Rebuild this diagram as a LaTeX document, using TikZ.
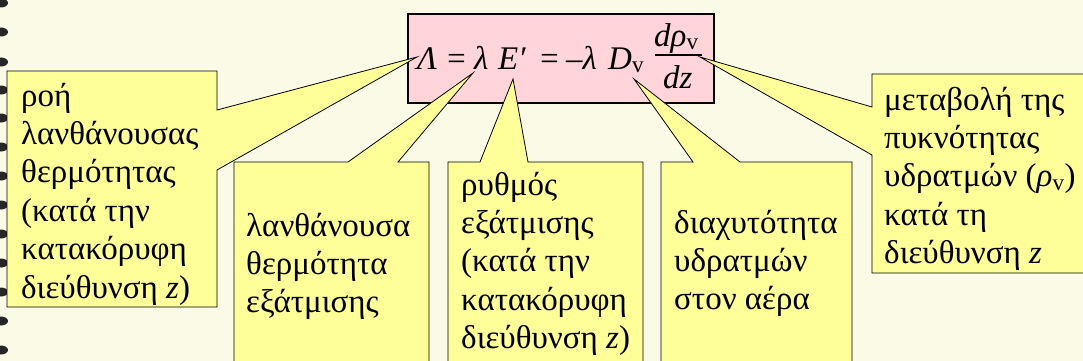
\documentclass[tikz,border=0pt]{standalone}
\usepackage{fontspec}
\setmainfont{Liberation Serif}
\definecolor{bgcol}{HTML}{FAFAE6}
\definecolor{calloutcol}{HTML}{FFFF99}
\definecolor{pinkcol}{HTML}{FFD5D9}
\newcommand{\ctext}[1]{\parbox[t]{260pt}{\fontsize{33}{38.4}\selectfont\raggedright #1}}
\tikzset{
  callout/.style={fill=calloutcol, draw=black, line width=0.8pt, line join=miter},
  ctxt/.style={anchor=base west, inner sep=0pt},
  ftxt/.style={anchor=base west, inner sep=0pt, font=\fontsize{33}{38}\selectfont\itshape},
  blob/.style={fill=black!85},
}
\begin{document}
\begin{tikzpicture}[x=1pt,y=-1pt]
\useasboundingbox (0,0) rectangle (1083,361);
\fill[bgcol] (0,0) rectangle (1083,361);
% binding dots on the left edge
\foreach \yy in {3,32,62,90,118,147,176,205,234,263,292,321,350}
  \fill[blob] (1,\yy) ellipse [x radius=7pt, y radius=4.5pt];
% formula box
\node[draw=black, line width=2pt, fill=pinkcol, minimum width=306pt, minimum height=89pt,
      anchor=north west, inner sep=0pt] (fbox) at (407,13) {};
\node[ftxt] (f1) at (417,69) {Λ};
\node[ftxt] (f2) at (445,69) {=};
\node[ftxt] (f3) at (474,69) {λ};
\node[ftxt] (f4) at (498,69) {E′};
\node[ftxt] (f5) at (538,69) {=};
\node[ftxt] (f6) at (566,69) {–λ};
\node[ftxt] (f7) at (608,69) {D\textsubscript{\upshape v}};
\node[ftxt] (num) at (654,46) {dρ\textsubscript{\upshape v}};
\node[ftxt] (den) at (663,88) {dz};
\coordinate (barL) at (655,55);
\coordinate (barR) at (702,55);
\draw[line width=1.3pt] (barL) -- (barR);
% tips
\coordinate (tA) at (417,57);
\coordinate (tB) at (473,73);
\coordinate (tC) at (513,79);
\coordinate (tD) at (634,79);
\coordinate (tE) at (700,57);
% callouts
\draw[callout] (7,71) -- (217,71) -- (217,110) -- (tA) -- (217,170) -- (217,307) -- (7,307) -- cycle;
\draw[callout] (234,162) -- (348,162) -- (tB) -- (398,162) -- (429,162) -- (429,370) -- (234,370) -- cycle;
\draw[callout] (448,162) -- (480,162) -- (tC) -- (528,162) -- (643,162) -- (643,370) -- (448,370) -- cycle;
\draw[callout] (661,162) -- (693,162) -- (tD) -- (740,162) -- (852,162) -- (852,370) -- (661,370) -- cycle;
\draw[callout] (872,74) -- (1090,74) -- (1090,273) -- (872,273) -- (872,155) -- (tE) -- (872,107) -- cycle;
% texts
\node[ctxt] (t1) at (21,106) {\ctext{ροή\\λανθάνουσας\\θερμότητας\\(κατά την\\κατακόρυφη\\διεύθυνση \textit{z})}};
\node[ctxt] (t2) at (246,236) {\ctext{λανθάνουσα\\θερμότητα\\εξάτμισης}};
\node[ctxt] (t3) at (461,195) {\ctext{ρυθμός\\εξάτμισης\\(κατά την\\κατακόρυφη\\διεύθυνση \textit{z})}};
\node[ctxt] (t4) at (674,233) {\ctext{διαχυτότητα\\υδρατμών\\στον αέρα}};
\node[ctxt] (t5) at (884,110) {\ctext{μεταβολή της\\πυκνότητας\\υδρατμών (\textit{ρ}\textsubscript{v})\\κατά τη\\διεύθυνση \textit{z}}};
\end{tikzpicture}
\end{document}
